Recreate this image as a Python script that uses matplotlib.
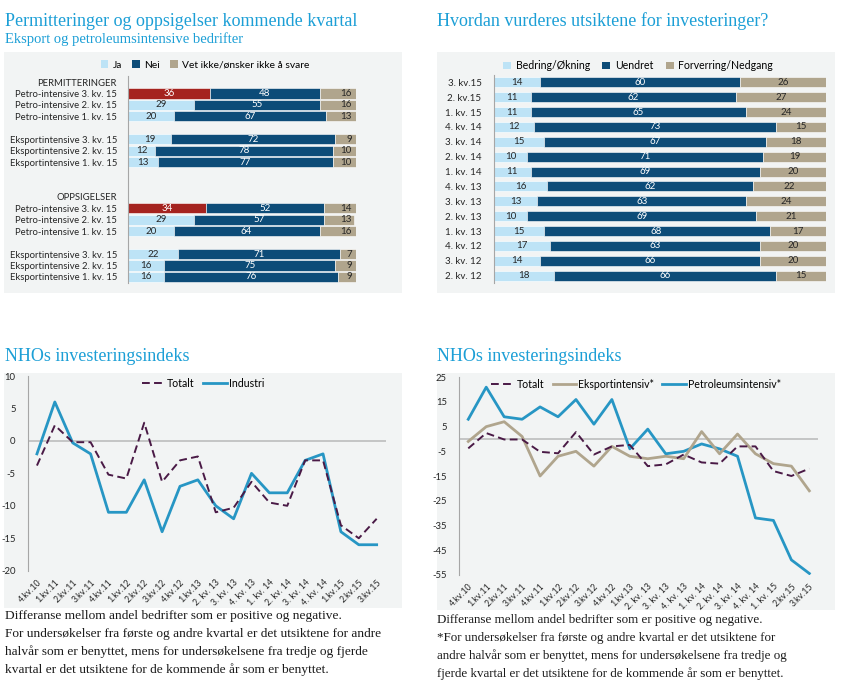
import matplotlib
matplotlib.use("Agg")
import matplotlib.pyplot as plt
from matplotlib.patches import Rectangle, Patch
from matplotlib.lines import Line2D
import numpy as np

W, H = 845, 687
SANS = ["Lato", "DejaVu Sans"]
SERIF = ["Liberation Serif", "DejaVu Serif"]

# ---------------- data ----------------
tl_labels = ["PERMITTERINGER",
             "Petro-intensive 3. kv. 15", "Petro-intensive 2. kv. 15", "Petro-intensive 1. kv. 15", "",
             "Eksportintensive 3. kv. 15", "Eksportintensive 2. kv. 15", "Eksportintensive 1. kv. 15", "", "",
             "OPPSIGELSER",
             "Petro-intensive 3. kv. 15", "Petro-intensive 2. kv. 15", "Petro-intensive 1. kv. 15", "",
             "Eksportintensive 3. kv. 15", "Eksportintensive 2. kv. 15", "Eksportintensive 1. kv. 15"]
perm_ja = [36, 29, 20, 19, 12, 13]
perm_nei = [48, 55, 67, 72, 78, 77]
perm_vet = [16, 16, 13, 9, 10, 10]
opps_ja = [34, 29, 20, 22, 16, 16]
opps_nei = [52, 57, 64, 71, 75, 76]
opps_vet = [14, 13, 16, 7, 9, 9]
tl_legend = ["Ja", "Nei", "Vet ikke/ønsker ikke å svare"]

tr_labels = ["3. kv.15", "2. kv.15", "1. kv. 15", "4. kv. 14", "3. kv. 14", "2. kv. 14", "1. kv. 14",
             "4. kv. 13", "3. kv. 13", "2. kv. 13", "1. kv. 13", "4. kv. 12", "3. kv. 12", "2. kv. 12"]
tr_bedring = [14, 11, 11, 12, 15, 10, 11, 16, 13, 10, 15, 17, 14, 18]
tr_uendret = [60, 62, 65, 73, 67, 71, 69, 62, 63, 69, 68, 63, 66, 66]
tr_forverr = [26, 27, 24, 15, 18, 19, 20, 22, 24, 21, 17, 20, 20, 15]
tr_legend = ["Bedring/Økning", "Uendret", "Forverring/Nedgang"]

bl_quarters = ["4.kv.10", "1.kv.11", "2.kv.11", "3.kv.11", "4.kv.11", "1.kv.12", "2.kv.12", "3.kv.12",
               "4.kv.12", "1.kv.13", "2. kv. 13", "3. kv. 13", "4. kv. 13", "1. kv. 14", "2. kv. 14",
               "3. kv. 14", "4. kv. 14", "1.kv.15", "2.kv.15", "3.kv.15"]
br_quarters = bl_quarters[:17] + ["1. kv. 15", "2.kv.15", "3.kv.15"]
totalt = [-3.8, 2.4, -0.2, -0.2, -5.2, -5.8, 2.8, -6.3, -3.0, -2.4, -11.0, -10.3, -6.3, -9.5, -10.0,
          -3.0, -3.0, -13.0, -15.0, -12.0]
industri = [-2, 6, -0.3, -2, -11, -11, -6, -14, -7, -6, -10, -12, -5, -8, -8, -3, -2, -14, -16, -16]
eksport = [-1, 5, 7, 1, -15, -7, -5, -11, -3, -7, -8, -7, -8, 3, -6, 2, -6, -10, -11, -21]
petro = [8, 21, 9, 8, 13, 9, 16, 6, 16, -4, 4, -6, -5, -2, -4, -7, -32, -33, -49, -54.5]

# ---------------- style ----------------
C_TITLE = "#1c9fd6"
C_JA = "#bde3f6"
C_NEI = "#0d4c78"
C_VET = "#b0a58d"
C_RED = "#a5231f"
C_BG = "#f2f4f4"
C_BLUE = "#2796c4"
C_PURPLE = "#4a1a46"
C_GRAY = "#a6a6a6"
C_TXT = "#262626"

fig = plt.figure(figsize=(W / 100, H / 100), dpi=100)
fig.patch.set_facecolor("white")

# background axes for panel backgrounds
bgax = fig.add_axes([0, 0, 1, 1], zorder=-10)
bgax.set_xlim(0, W)
bgax.set_ylim(H, 0)
bgax.axis("off")


def add_ax(x0, y0, x1, y1):
    return fig.add_axes([x0 / W, 1 - y1 / H, (x1 - x0) / W, (y1 - y0) / H])


def bg(x0, y0, x1, y1):
    bgax.add_patch(Rectangle((x0, y0), x1 - x0, y1 - y0, facecolor=C_BG, edgecolor="none"))


bg(4, 52, 402, 293)
bg(437, 52, 835, 293)
bg(4, 373, 402, 608)
bg(437, 373, 835, 610)

# titles
fig.text(5 / W, 1 - 26 / H, "Permitteringer og oppsigelser kommende kvartal", family=SERIF,
         fontsize=13, color=C_TITLE, va="baseline")
fig.text(5 / W, 1 - 43 / H, "Eksport og petroleumsintensive bedrifter", family=SERIF,
         fontsize=10.5, color=C_TITLE, va="baseline")
fig.text(437 / W, 1 - 26 / H, "Hvordan vurderes utsiktene for investeringer?", family=SERIF,
         fontsize=13, color=C_TITLE, va="baseline")
fig.text(5 / W, 1 - 361 / H, "NHOs investeringsindeks", family=SERIF, fontsize=13, color=C_TITLE,
         va="baseline")
fig.text(437 / W, 1 - 361 / H, "NHOs investeringsindeks", family=SERIF, fontsize=13, color=C_TITLE,
         va="baseline")

# ---------------- top-left stacked bars ----------------
ax = add_ax(128, 76.3, 356, 282.7)
ax.set_facecolor("none")
rows_perm = [1, 2, 3, 5, 6, 7]
rows_opps = [11, 12, 13, 15, 16, 17]
bh = 0.88
for rows, ja, nei, vet in [(rows_perm, perm_ja, perm_nei, perm_vet), (rows_opps, opps_ja, opps_nei, opps_vet)]:
    ja_cols = [C_RED] + [C_JA] * (len(ja) - 1)
    ax.barh(rows, ja, height=bh, color=ja_cols, edgecolor="white", linewidth=0.4)
    ax.barh(rows, nei, left=ja, height=bh, color=C_NEI, edgecolor="white", linewidth=0.4)
    left2 = [a + b for a, b in zip(ja, nei)]
    ax.barh(rows, vet, left=left2, height=bh, color=C_VET, edgecolor="white", linewidth=0.4)
    for i, r in enumerate(rows):
        ax.text(ja[i] / 2, r, str(ja[i]), ha="center", va="center", fontsize=7, family=SANS,
                color="white" if i == 0 else C_TXT)
        ax.text(ja[i] + nei[i] / 2, r, str(nei[i]), ha="center", va="center", fontsize=7,
                family=SANS, color="white")
        ax.text(100 - 1.8, r, str(vet[i]), ha="right", va="center", fontsize=7, family=SANS,
                color=C_TXT)
ax.set_xlim(0, 100)
ax.set_ylim(17.5, -0.5)
ax.set_yticks(range(len(tl_labels)))
ax.set_yticklabels(tl_labels, fontsize=6.8, family=SANS, color=C_TXT)
ax.tick_params(axis="y", length=0, pad=8)
ax.set_xticks([])
for s in ["top", "right", "bottom"]:
    ax.spines[s].set_visible(False)
ax.spines["left"].set_color(C_GRAY)
ax.spines["left"].set_linewidth(0.8)
handles = [Patch(facecolor=C_JA), Patch(facecolor=C_NEI), Patch(facecolor=C_VET)]
fig.legend(handles, tl_legend, loc="center", bbox_to_anchor=(205 / W, 1 - 65 / H), ncol=3,
           frameon=False, prop={"family": SANS, "size": 7.4}, handlelength=0.75, handleheight=0.75,
           handletextpad=0.4, columnspacing=1.0)

# ---------------- top-right 100% stacked bars ----------------
ax = add_ax(494, 74.9, 826, 283.1)
ax.set_facecolor("none")
y = np.arange(len(tr_labels))
tot = np.array(tr_bedring) + np.array(tr_uendret) + np.array(tr_forverr)
pb = np.array(tr_bedring) / tot * 100
pu = np.array(tr_uendret) / tot * 100
pf = np.array(tr_forverr) / tot * 100
ax.barh(y, pb, height=0.68, color=C_JA, edgecolor="white", linewidth=0.4)
ax.barh(y, pu, left=pb, height=0.68, color=C_NEI, edgecolor="white", linewidth=0.4)
ax.barh(y, pf, left=pb + pu, height=0.68, color=C_VET, edgecolor="white", linewidth=0.4)
for i in range(len(y)):
    ax.text(pb[i] / 2, i, str(tr_bedring[i]), ha="center", va="center", fontsize=7,
            family=SANS, color=C_TXT)
    ax.text(pb[i] + pu[i] / 2, i, str(tr_uendret[i]), ha="center", va="center",
            fontsize=7, family=SANS, color="white")
    ax.text(pb[i] + pu[i] + pf[i] / 2, i, str(tr_forverr[i]), ha="center", va="center", fontsize=7,
            family=SANS, color=C_TXT)
ax.set_xlim(0, 100)
ax.set_ylim(len(y) - 0.5, -0.5)
ax.set_yticks(y)
ax.set_yticklabels(tr_labels, fontsize=7, family=SANS, color=C_TXT)
ax.tick_params(axis="y", length=0, pad=9)
ax.set_xticks([])
for s in ["top", "right", "bottom"]:
    ax.spines[s].set_visible(False)
ax.spines["left"].set_color(C_GRAY)
ax.spines["left"].set_linewidth(0.8)
fig.legend(handles, tr_legend, loc="center", bbox_to_anchor=(638 / W, 1 - 65.7 / H), ncol=3,
           frameon=False, prop={"family": SANS, "size": 7.6}, handlelength=0.75, handleheight=0.75,
           handletextpad=0.4, columnspacing=1.2)


# ---------------- line charts ----------------
def line_axes(x0, y0, x1, y1, ylim, yticks, labels):
    ax = add_ax(x0, y0, x1, y1)
    ax.set_facecolor("none")
    ax.set_xlim(-0.5, len(labels) - 0.5)
    ax.set_ylim(*ylim)
    ax.set_yticks(yticks)
    ax.set_yticklabels([str(t) for t in yticks], fontsize=6.8, family=SANS, color=C_TXT)
    ax.set_xticks(range(len(labels)))
    ax.set_xticklabels(labels, rotation=45, ha="right", rotation_mode="anchor", fontsize=6.3,
                       family=SANS, color=C_TXT)
    ax.tick_params(axis="y", length=0, pad=9)
    ax.tick_params(axis="x", length=0, pad=5)
    for s in ["top", "right", "bottom"]:
        ax.spines[s].set_visible(False)
    ax.spines["left"].set_color(C_GRAY)
    ax.spines["left"].set_linewidth(0.8)
    ax.axhline(0, color="#bdbdbd", linewidth=1.2, zorder=1)
    return ax


ax = line_axes(28, 376, 385.6, 570.7, (-20, 10), list(range(-20, 11, 5)), bl_quarters)
x = np.arange(len(bl_quarters))
ax.plot(x, industri, color=C_BLUE, linewidth=2.0, label="Industri", zorder=3)
ax.plot(x, totalt, color=C_PURPLE, linewidth=1.4, dashes=(4, 2.2), label="Totalt", zorder=4)
h = [Line2D([], [], color=C_PURPLE, linewidth=1.4, dashes=(4, 2.2)),
     Line2D([], [], color=C_BLUE, linewidth=2.0)]
ax.legend(h, ["Totalt", "Industri"], loc="center", bbox_to_anchor=(203 / W, 1 - 383 / H),
          bbox_transform=fig.transFigure, ncol=2, frameon=False, prop={"family": SANS, "size": 7.6},
          handlelength=2.2, handletextpad=0.2, columnspacing=0.8)

ax = line_axes(459.3, 377.3, 818.3, 574.7, (-55, 25), list(range(-55, 26, 10)), br_quarters)
x = np.arange(len(br_quarters))
ax.plot(x, petro, color=C_BLUE, linewidth=2.0, zorder=3)
ax.plot(x, eksport, color=C_VET, linewidth=2.0, zorder=3)
ax.plot(x, totalt, color=C_PURPLE, linewidth=1.4, dashes=(4, 2.2), zorder=4)
h = [Line2D([], [], color=C_PURPLE, linewidth=1.4, dashes=(4, 2.2)),
     Line2D([], [], color=C_VET, linewidth=2.0),
     Line2D([], [], color=C_BLUE, linewidth=2.0)]
ax.legend(h, ["Totalt", "Eksportintensiv*", "Petroleumsintensiv*"], loc="center",
          bbox_to_anchor=(636 / W, 1 - 384 / H), bbox_transform=fig.transFigure, ncol=3,
          frameon=False, prop={"family": SANS, "size": 7.6}, handlelength=2.2, handletextpad=0.2,
          columnspacing=0.8)

# ---------------- footnotes ----------------
left_notes = ["Differanse mellom andel bedrifter som er positive og negative.",
              "For undersøkelser fra første og andre kvartal er det utsiktene for andre",
              "halvår som er benyttet, mens for undersøkelsene fra tredje og fjerde",
              "kvartal er det utsiktene for de kommende år som er benyttet."]
right_notes = ["Differanse mellom andel bedrifter som er positive og negative.",
               "*For undersøkelser fra første og andre kvartal er det utsiktene for",
               "andre halvår som er benyttet, mens for undersøkelsene fra tredje og",
               "fjerde kvartal er det utsiktene for de kommende år som er benyttet."]
for i, t in enumerate(left_notes):
    fig.text(5 / W, 1 - (619 + 18 * i) / H, t, family=SERIF, fontsize=9.6, color="#1a1a1a",
             va="baseline")
for i, t in enumerate(right_notes):
    fig.text(437 / W, 1 - (623 + 18 * i) / H, t, family=SERIF, fontsize=9.4, color="#1a1a1a",
             va="baseline")

fig.savefig("out.png", dpi=100)
